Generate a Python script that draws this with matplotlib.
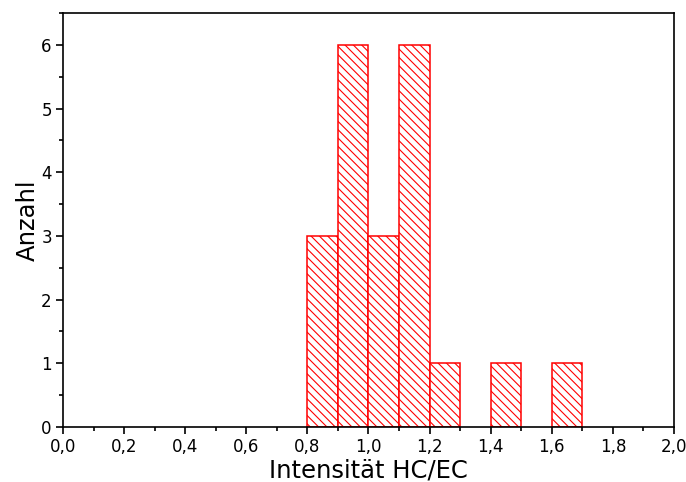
import numpy as np
import matplotlib
matplotlib.use("Agg")
import matplotlib.pyplot as plt
from matplotlib.ticker import MultipleLocator, FuncFormatter

# Histogram of the HC/EC intensity ratio
bin_left = [0.8, 0.9, 1.0, 1.1, 1.2, 1.3, 1.4, 1.5, 1.6]
counts = [3, 6, 3, 6, 1, 0, 1, 0, 1]
bin_width = 0.1

plt.rcParams["hatch.color"] = "#ff4a4a"
plt.rcParams["hatch.linewidth"] = 0.8

fig = plt.figure(figsize=(6.86, 4.82), dpi=100)
ax = fig.add_axes([0.0918, 0.1141, 0.8907, 0.8589])

for x, c in zip(bin_left, counts):
    if c > 0:
        ax.bar(x, c, width=bin_width, align="edge", facecolor="white",
               edgecolor="red", linewidth=1.1, hatch="\\\\\\\\")

ax.set_xlim(0.0, 2.0)
ax.set_ylim(0, 6.5)
ax.xaxis.set_major_locator(MultipleLocator(0.2))
ax.xaxis.set_minor_locator(MultipleLocator(0.1))
ax.yaxis.set_major_locator(MultipleLocator(1))
ax.yaxis.set_minor_locator(MultipleLocator(0.5))
ax.xaxis.set_major_formatter(FuncFormatter(lambda v, p: f"{v:.1f}".replace(".", ",")))
ax.yaxis.set_major_formatter(FuncFormatter(lambda v, p: f"{v:.0f}"))

ax.tick_params(which="both", direction="out", top=False, right=False,
               width=1.2, labelsize=12)
ax.tick_params(which="major", length=5, pad=3)
ax.tick_params(which="minor", length=3)
for s in ax.spines.values():
    s.set_linewidth(1.2)

ax.set_xlabel("Intensität HC/EC", fontsize=17.5, labelpad=2)
ax.set_ylabel("Anzahl", fontsize=17.5, labelpad=1)

fig.savefig("out.png", dpi=100)
